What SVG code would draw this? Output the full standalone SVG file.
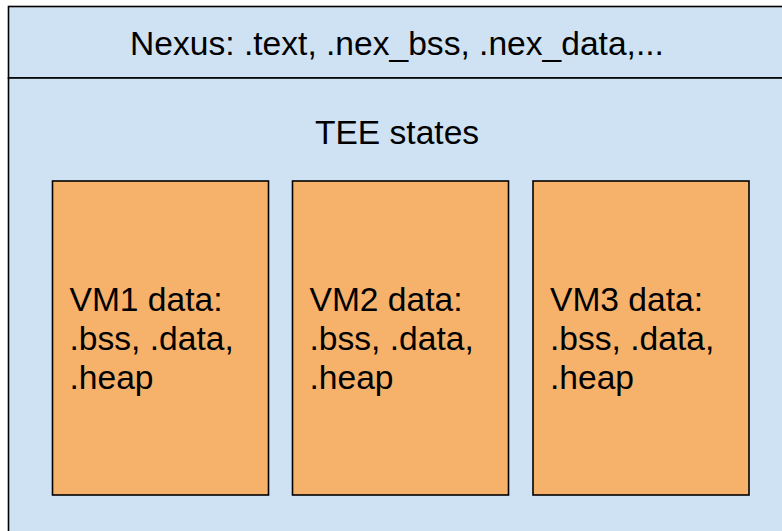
<svg xmlns="http://www.w3.org/2000/svg" width="782" height="531" viewBox="0 0 782 531">
<style>
.bg{fill:#cfe2f3;stroke:#000;stroke-width:1.6}
.vm{fill:#f6b26b;stroke:#000;stroke-width:1.6}
text{font-family:"Liberation Sans",Arial,sans-serif;font-size:33.6px;fill:#000}
.c{text-anchor:middle}
</style>
<rect width="782" height="531" fill="#ffffff"/>
<g id="nexus">
<rect class="bg" x="8.5" y="6.5" width="790" height="71.5"/>
<text class="c" x="397" y="55">Nexus: .text, .nex_bss, .nex_data,...</text>
</g>
<g id="tee">
<rect class="bg" x="8.5" y="78" width="790" height="470"/>
<text class="c" x="397" y="143.5">TEE states</text>
</g>
<g id="vm1">
<rect class="vm" x="52.5" y="181" width="216" height="314"/>
<text x="69.5" y="311">VM1 data:</text>
<text x="69.5" y="350">.bss, .data,</text>
<text x="69.5" y="389">.heap</text>
</g>
<g id="vm2">
<rect class="vm" x="292.5" y="181" width="216" height="314"/>
<text x="309.5" y="311">VM2 data:</text>
<text x="309.5" y="350">.bss, .data,</text>
<text x="309.5" y="389">.heap</text>
</g>
<g id="vm3">
<rect class="vm" x="533" y="181" width="216" height="314"/>
<text x="550" y="311">VM3 data:</text>
<text x="550" y="350">.bss, .data,</text>
<text x="550" y="389">.heap</text>
</g>
<g id="connectors"></g>
</svg>
